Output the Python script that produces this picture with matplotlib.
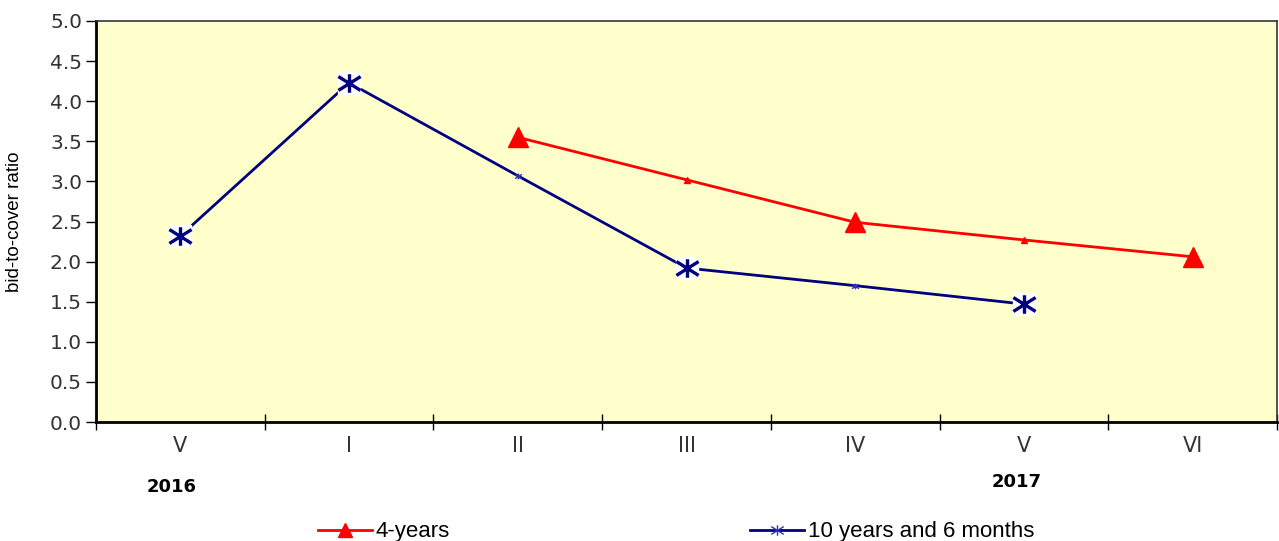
import matplotlib
matplotlib.use("Agg")
import matplotlib.pyplot as plt
import numpy as np
from matplotlib.path import Path
from matplotlib.lines import Line2D

categories = ["V", "I", "II", "III", "IV", "V", "VI"]
years = ["2016", "2017"]
blue_vals = [2.32, 4.23, 3.07, 1.92, 1.70, 1.47, None]
red_vals = [None, None, 3.55, 3.02, 2.49, 2.27, 2.06]
blue_big = [True, True, False, True, False, True, False]
red_big = [False, False, True, False, True, False, True]

plt.rcParams['font.family'] = ['DejaVu Sans']

fig = plt.figure(figsize=(12.79, 5.41), dpi=100)
ax = fig.add_axes([96/1279, 1-422/541, (1277-96)/1279, (422-21)/541])
ax.set_facecolor('#FFFFCC')

x = np.arange(len(categories))

star = Path([(0, -1), (0, 1), (-1.2, -0.75), (1.2, 0.75), (-1.2, 0.75), (1.2, -0.75)],
            [Path.MOVETO, Path.LINETO, Path.MOVETO, Path.LINETO, Path.MOVETO, Path.LINETO])

BLUE = '#000080'
RED = '#FF0000'

bx = [xi for xi, v in zip(x, blue_vals) if v is not None]
by = [v for v in blue_vals if v is not None]
ax.plot(bx, by, color=BLUE, lw=2, zorder=3)
for xi, v, big in zip(x, blue_vals, blue_big):
    if v is None:
        continue
    if big:
        ax.plot(xi, v, marker='s', ms=16, color='white', mec='white', zorder=4)
        ax.plot(xi, v, marker=star, ms=16, color=BLUE, mew=2.4, zorder=5)
    else:
        ax.plot(xi, v, marker=star, ms=5, color='#3030C0', mew=1, zorder=5)

rx = [xi for xi, v in zip(x, red_vals) if v is not None]
ry = [v for v in red_vals if v is not None]
ax.plot(rx, ry, color=RED, lw=2, zorder=3)
for xi, v, big in zip(x, red_vals, red_big):
    if v is None:
        continue
    ax.plot(xi, v, marker='^', ms=15 if big else 4, color=RED, mec=RED, zorder=5)

ax.set_xlim(-0.5, len(categories) - 0.5)
ax.set_ylim(0, 5.0)
yt = np.arange(0, 5.01, 0.5)
ax.set_yticks(yt)
ax.set_yticklabels([f"{v:.1f}" for v in yt], fontsize=14.5, color='#333333')
ax.set_xticks(np.arange(-0.5, len(categories)))
ax.set_xticklabels([])
ax.set_xticks(x, minor=True)
ax.set_xticklabels(categories, minor=True, fontsize=15, color='#333333')
ax.tick_params(axis='x', which='major', direction='inout', length=12, width=1)
ax.tick_params(axis='x', which='minor', length=0, pad=10)
ax.tick_params(axis='y', direction='out', length=7, width=1, pad=3)

for s in ['left', 'bottom']:
    ax.spines[s].set_linewidth(2)
for s in ['top', 'right']:
    ax.spines[s].set_linewidth(1.2)
    ax.spines[s].set_color('#333333')

fig.text(15/1279, 1-222/541, "bid-to-cover ratio", rotation=90, fontsize=13.5,
         family='Liberation Sans', ha='center', va='center')

fig.text(172/1279, 1-487/541, years[0], fontsize=13, fontweight='bold', ha='center', va='center')
fig.text(1017/1279, 1-482/541, years[1], fontsize=13, fontweight='bold', ha='center', va='center')

h1 = Line2D([], [], color=RED, lw=2, marker='^', ms=10)
h2 = Line2D([], [], color=BLUE, lw=2, marker=star, ms=9, mec='#3030C0', mew=1)
lp = dict(family='Liberation Sans', size=16)
fig.legend([h1], ["4-years"], loc='center left', bbox_to_anchor=(318/1279, 1-532/541),
           frameon=False, prop=lp, handlelength=2.45, handletextpad=0.15,
           borderpad=0, borderaxespad=0)
fig.legend([h2], ["10 years and 6 months"], loc='center left', bbox_to_anchor=(750/1279, 1-532/541),
           frameon=False, prop=lp, handlelength=2.45, handletextpad=0.15,
           borderpad=0, borderaxespad=0)

fig.savefig("out.png", dpi=100)
